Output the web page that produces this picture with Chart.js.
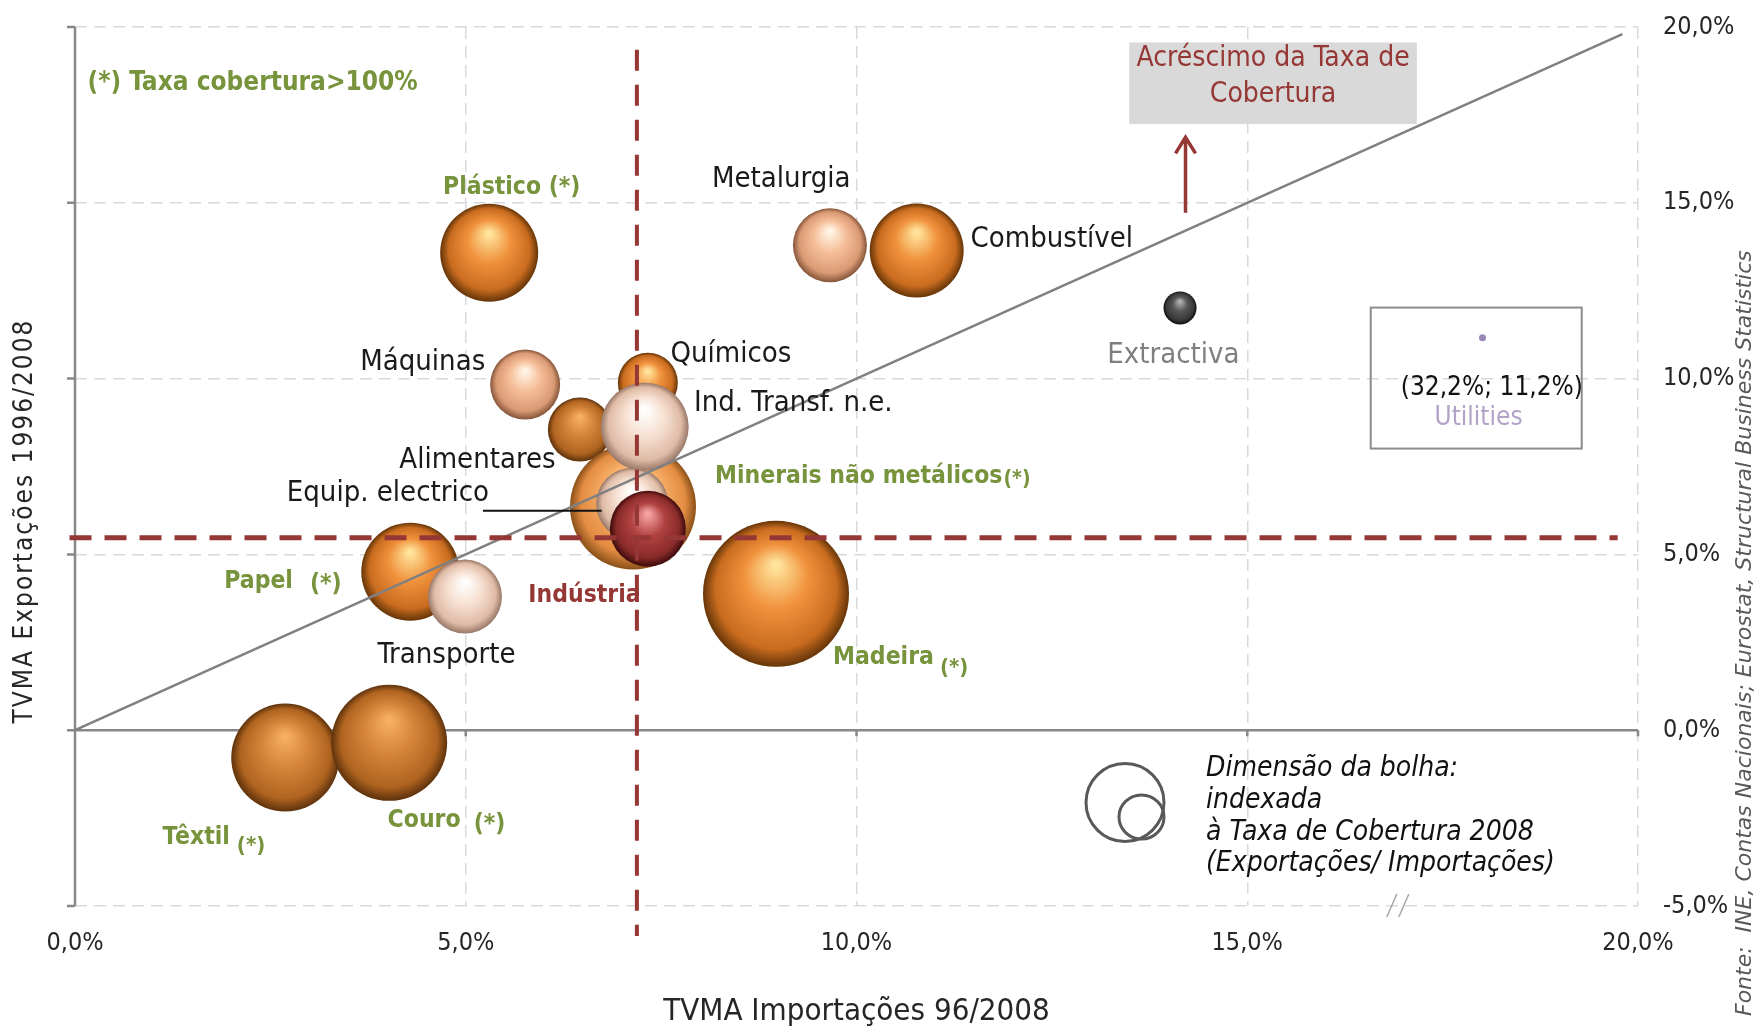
<!DOCTYPE html>
<html lang="pt">
<head>
<meta charset="utf-8">
<title>TVMA Exportações vs Importações</title>
<script src="https://cdn.jsdelivr.net/npm/chart.js@4.4.1/dist/chart.umd.min.js"></script>
<style>
  html, body { margin: 0; padding: 0; background: #fff; }
  #grafico { display: block; }
</style>
</head>
<body>
<canvas id="grafico" width="1758" height="1031"></canvas>
<script>
// dados (TVMA em %), ordem = ordem de desenho
const categorias = ['Plástico', 'Metalurgia', 'Combustível', 'Extractiva', 'Máquinas', 'Químicos',
  'Alimentares', 'Minerais não metálicos', 'Equip. electrico', 'Ind. Transf. n.e.', 'Indústria',
  'Papel', 'Transporte', 'Madeira', 'Têxtil', 'Couro'];
const importacoes = [5.30, 9.66, 10.77, 14.14, 5.76, 7.33, 6.46, 7.14, 7.13, 7.29, 7.33, 4.29, 4.99, 8.97, 2.69, 4.02];
const exportacoes = [13.58, 13.79, 13.64, 12.01, 9.83, 9.88, 8.55, 6.36, 6.44, 8.63, 5.73, 4.51, 3.80, 3.88, -0.78, -0.36];
// dimensao da bolha (indexada a taxa de cobertura 2008)
const raioBolha = [49, 37, 47, 16.5, 35, 30, 32, 63, 36, 44, 38, 49, 37, 73, 54, 58];
const utilities = [32.2, 11.2];
const refImport = 7.19;
const refExport = 5.47;

const FONTE = '"DejaVu Sans Condensed", "DejaVu Sans", sans-serif';

const paletas = {
  laranja:  ['#FFE49C', '#F0913C', '#C96C1F', '#653508'],
  pessego:  ['#FFF5E6', '#F5BE98', '#D99A74', '#85543A'],
  castanho: ['#F7AE62', '#D4843A', '#B06420', '#5E320C'],
  palido:   ['#FFFFFF', '#F7E1D3', '#DFBBA6', '#977768'],
  minerais: ['#FFE0B4', '#F8AF68', '#E38C42', '#8A5018'],
  vermelho: ['#F8A4A4', '#B14242', '#8A2A2A', '#3C0B0B'],
  cinza:    ['#B4B4B4', '#565656', '#383838', '#0E0E0E']
};
const corDe = {
  'Plástico': 'laranja', 'Metalurgia': 'pessego', 'Combustível': 'laranja', 'Extractiva': 'cinza',
  'Máquinas': 'pessego', 'Químicos': 'laranja', 'Alimentares': 'castanho', 'Minerais não metálicos': 'minerais',
  'Equip. electrico': 'palido', 'Ind. Transf. n.e.': 'palido', 'Indústria': 'vermelho', 'Papel': 'laranja',
  'Transporte': 'palido', 'Madeira': 'laranja', 'Têxtil': 'castanho', 'Couro': 'castanho'
};

function pct(v) {
  return v.toFixed(1).replace('.', ',') + '%';
}

// gradiente radial para dar o efeito de esfera
function esfera(c) {
  const chart = c.chart;
  if (c.type !== 'data' || !chart.chartArea) return '#F0913C';
  const i = c.dataIndex;
  const cx = chart.scales.x.getPixelForValue(c.raw.x);
  const cy = chart.scales.y.getPixelForValue(c.raw.y);
  const r = c.raw.r;
  const p = paletas[corDe[categorias[i]]];
  const g = chart.ctx.createRadialGradient(cx, cy - r * 0.4, r * 0.04, cx, cy, r);
  g.addColorStop(0, p[0]);
  g.addColorStop(0.42, p[1]);
  g.addColorStop(0.82, p[2]);
  g.addColorStop(1, p[3]);
  return g;
}

const estilos = {
  verde:    { peso: 'bold ', tam: 24.5, cor: '#77933C' },
  preto:    { peso: '', tam: 29, cor: '#1A1A1A' },
  cinza:    { peso: '', tam: 29, cor: '#7F7F7F' },
  vermelho: { peso: 'bold ', tam: 24.5, cor: '#953735' }
};

const rotulos = [
  { t: '(*) Taxa cobertura>100%', x: 0.16, y: 18.48, e: 'verde', f: 26 },
  { t: 'Plástico (*)', x: 4.71, y: 15.51, e: 'verde' },
  { t: 'Metalurgia', x: 8.15, y: 15.74, e: 'preto' },
  { t: 'Combustível', x: 11.46, y: 14.05, e: 'preto' },
  { t: 'Extractiva', x: 13.21, y: 10.73, e: 'cinza' },
  { t: 'Máquinas', x: 3.65, y: 10.54, e: 'preto' },
  { t: 'Químicos', x: 7.62, y: 10.76, e: 'preto' },
  { t: 'Ind. Transf. n.e.', x: 7.92, y: 9.39, e: 'preto' },
  { t: 'Alimentares', x: 4.15, y: 7.76, e: 'preto' },
  { t: 'Minerais não metálicos', x: 8.19, y: 7.29, e: 'verde', suf: '(*)', gap: 1, dy: 3, sf: 21 },
  { t: 'Equip. electrico', x: 2.71, y: 6.81, e: 'preto' },
  { t: 'Indústria', x: 5.80, y: 3.91, e: 'vermelho' },
  { t: 'Papel', x: 1.91, y: 4.32, e: 'verde', suf: '(*)', gap: 17, dy: 3 },
  { t: 'Transporte', x: 3.87, y: 2.22, e: 'preto' },
  { t: 'Madeira', x: 9.70, y: 2.15, e: 'verde', suf: '(*)', gap: 6, dy: 11, sf: 22 },
  { t: 'Têxtil', x: 1.12, y: -2.98, e: 'verde', suf: '(*)', gap: 7, dy: 8, sf: 22 },
  { t: 'Couro', x: 4.0, y: -2.50, e: 'verde', suf: '(*)', gap: 13, dy: 4 }
];

const decoracoes = {
  id: 'decoracoes',
  beforeDatasetsDraw(chart) {
    const { ctx, scales: { x, y } } = chart;
    const x0 = x.getPixelForValue(0), y0 = y.getPixelForValue(0);
    ctx.save();
    ctx.strokeStyle = '#888888';
    ctx.lineWidth = 2.5;
    ctx.beginPath();
    ctx.moveTo(x0, y.top); ctx.lineTo(x0, y.bottom);
    for (let v = -5; v <= 20; v += 5) {
      const p = y.getPixelForValue(v);
      ctx.moveTo(x0 - 8, p); ctx.lineTo(x0, p);
    }
    ctx.moveTo(x0, y0); ctx.lineTo(x.right, y0);
    for (let v = 5; v <= 20; v += 5) {
      const p = x.getPixelForValue(v);
      ctx.moveTo(p, y0); ctx.lineTo(p, y0 + 6);
    }
    ctx.stroke();

    // quebra de escala "//"
    ctx.strokeStyle = '#A6A6A6';
    ctx.lineWidth = 1.5;
    const bx = x.getPixelForValue(16.85), by = y.bottom;
    ctx.beginPath();
    ctx.moveTo(bx - 5, by + 11); ctx.lineTo(bx + 5, by - 12);
    ctx.moveTo(bx + 7, by + 11); ctx.lineTo(bx + 17, by - 12);
    ctx.stroke();
    ctx.restore();
  },
  afterDatasetsDraw(chart) {
    const { ctx, scales: { x, y } } = chart;
    const px = v => x.getPixelForValue(v);
    const py = v => y.getPixelForValue(v);
    ctx.save();
    ctx.textBaseline = 'middle';

    // rotulos das bolhas
    rotulos.forEach(r => {
      const s = estilos[r.e];
      ctx.font = s.peso + (r.f || s.tam) + 'px ' + FONTE;
      ctx.fillStyle = s.cor;
      ctx.textAlign = 'left';
      ctx.fillText(r.t, px(r.x), py(r.y) + 3);
      if (r.suf) {
        const w = ctx.measureText(r.t).width;
        ctx.font = s.peso + (r.sf || s.tam) + 'px ' + FONTE;
        ctx.fillText(r.suf, px(r.x) + w + r.gap, py(r.y) + 3 + r.dy);
      }
    });

    // linha de chamada do Equip. electrico
    ctx.strokeStyle = '#111';
    ctx.lineWidth = 2;
    ctx.beginPath();
    ctx.moveTo(px(5.22), py(6.24)); ctx.lineTo(px(6.74), py(6.24));
    ctx.stroke();

    // caixa "Acrescimo da Taxa de Cobertura"
    ctx.fillStyle = '#D9D9D9';
    ctx.fillRect(px(13.49), py(19.56), px(17.17) - px(13.49), py(17.24) - py(19.56));
    ctx.fillStyle = '#953735';
    ctx.font = '28px ' + FONTE;
    ctx.textAlign = 'center';
    const cx = (px(13.49) + px(17.17)) / 2;
    ctx.fillText('Acréscimo da Taxa de', cx, py(19.15) + 2);
    ctx.fillText('Cobertura', cx, py(18.13) + 2);

    // seta
    const ax = px(14.21);
    ctx.strokeStyle = '#953735';
    ctx.lineWidth = 3.5;
    ctx.beginPath();
    ctx.moveTo(ax, py(14.72)); ctx.lineTo(ax, py(16.86));
    ctx.moveTo(ax - 10, py(16.86) + 16); ctx.lineTo(ax, py(16.86)); ctx.lineTo(ax + 10, py(16.86) + 16);
    ctx.stroke();

    // caixa Utilities (fora da escala)
    ctx.strokeStyle = '#8C8C8C';
    ctx.lineWidth = 2;
    ctx.strokeRect(px(16.58), py(12.02), px(19.28) - px(16.58), py(8.01) - py(12.02));
    ctx.fillStyle = '#9A88B8';
    ctx.beginPath();
    ctx.arc(px(18.01), py(11.16), 3.5, 0, Math.PI * 2);
    ctx.fill();
    ctx.fillStyle = '#111';
    ctx.font = '26px ' + FONTE;
    ctx.fillText('(' + pct(utilities[0]) + '; ' + pct(utilities[1]) + ')', px(18.13), py(9.78) + 2);
    ctx.fillStyle = '#B3A2C7';
    ctx.fillText('Utilities', px(17.96), py(8.92) + 2);

    // legenda da dimensao da bolha
    ctx.strokeStyle = '#595959';
    ctx.lineWidth = 3;
    ctx.beginPath();
    ctx.ellipse(1125, 802.5, 39, 39, 0, 0, Math.PI * 2);
    ctx.stroke();
    ctx.beginPath();
    ctx.ellipse(1141.5, 817, 22.5, 22, 0, 0, Math.PI * 2);
    ctx.stroke();
    ctx.fillStyle = '#111';
    ctx.textAlign = 'left';
    ctx.font = 'italic 28px ' + FONTE;
    ['Dimensão da bolha:', 'indexada', 'à Taxa de Cobertura 2008', '(Exportações/ Importações)']
      .forEach((l, k) => ctx.fillText(l, 1206, 769 + k * 31.7));

    // titulo do eixo vertical (lado esquerdo)
    ctx.save();
    ctx.translate(25, 521);
    ctx.rotate(-Math.PI / 2);
    ctx.textAlign = 'center';
    ctx.font = '26px ' + FONTE;
    ctx.letterSpacing = '2px';
    ctx.fillStyle = '#262626';
    ctx.fillText('TVMA Exportações 1996/2008', 0, 0);
    ctx.restore();

    // fonte
    ctx.save();
    ctx.translate(1745, 1016);
    ctx.rotate(-Math.PI / 2);
    ctx.textAlign = 'left';
    ctx.font = 'italic 22px "DejaVu Sans", sans-serif';
    ctx.fillStyle = '#595959';
    ctx.fillText('Fonte:  INE, Contas Nacionais; Eurostat, Structural Business Statistics', 0, 0);
    ctx.restore();

    ctx.restore();
  }
};

const bolhas = categorias.map((c, i) => ({ x: importacoes[i], y: exportacoes[i], r: raioBolha[i] }));

new Chart(document.getElementById('grafico'), {
  type: 'bubble',
  data: {
    datasets: [
      {
        type: 'line',
        data: [{ x: refImport, y: 19.35 }, { x: refImport, y: -5.85 }],
        borderColor: '#953735', borderWidth: 4, borderDash: [21, 14],
        pointRadius: 0, clip: false, order: 0
      },
      {
        type: 'line',
        data: [{ x: -0.07, y: refExport }, { x: 19.74, y: refExport }],
        borderColor: '#953735', borderWidth: 5, borderDash: [22, 13],
        pointRadius: 0, clip: false, order: 0
      },
      {
        type: 'line',
        data: [{ x: 0, y: 0 }, { x: 19.8, y: 19.8 }],
        borderColor: '#808080', borderWidth: 2.5,
        pointRadius: 0, clip: false, order: 1
      },
      {
        type: 'bubble',
        label: 'Sectores',
        data: bolhas,
        backgroundColor: esfera,
        borderWidth: 0,
        order: 2
      }
    ]
  },
  options: {
    responsive: false,
    animation: false,
    events: [],
    layout: { autoPadding: false, padding: { left: 75, top: 27, right: 0, bottom: 0 } },
    plugins: {
      legend: { display: false },
      tooltip: { enabled: false }
    },
    scales: {
      x: {
        type: 'linear', position: 'bottom', min: 0, max: 20,
        ticks: { stepSize: 5, padding: 0, color: '#262626', font: { family: FONTE, size: 25 }, callback: v => pct(v) },
        grid: { color: '#D9D9D9', lineWidth: 1.5, drawTicks: true, tickLength: 22, tickColor: 'rgba(0,0,0,0)' },
        border: { display: false, dash: [12, 7] },
        title: { display: true, text: 'TVMA Importações 96/2008', color: '#262626', font: { family: FONTE, size: 31 }, padding: { top: 0, bottom: 0 } },
        afterFit: s => { s.height = 125; }
      },
      y: {
        type: 'linear', position: 'right', min: -5, max: 20,
        ticks: { stepSize: 5, padding: 0, color: '#262626', font: { family: FONTE, size: 25 }, callback: v => pct(v) },
        grid: { color: '#D9D9D9', lineWidth: 1.5, drawTicks: true, tickLength: 25, tickColor: 'rgba(0,0,0,0)' },
        border: { display: false, dash: [12, 7] },
        afterFit: s => { s.width = 120; }
      }
    }
  },
  plugins: [decoracoes]
});
</script>
</body>
</html>
